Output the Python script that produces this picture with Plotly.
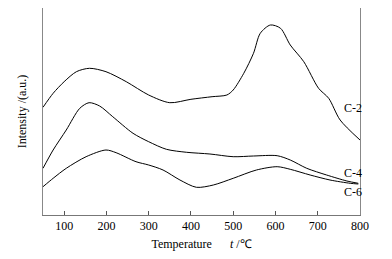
import plotly.graph_objects as go

# temperature (°C) and intensity (a.u.)
t_c2 = [50, 74, 100, 129, 160, 199, 247, 300, 350, 400, 450, 485, 500, 525, 548, 564, 588, 612, 635, 667, 702, 726, 753, 800]
i_c2 = [107.7, 121.7, 133.3, 143.3, 146.7, 143.3, 133.3, 120, 112.3, 115.7, 118.3, 120, 125, 141.7, 161.7, 181.7, 190, 186.7, 170, 153.3, 126.7, 116.7, 95, 75]

t_c4 = [50, 74, 105, 137, 159, 184, 215, 263, 300, 342, 390, 445, 500, 548, 604, 635, 674, 721, 769, 796]
i_c4 = [46.7, 65, 85, 106.7, 112.3, 109, 98.3, 81.7, 73.3, 65.7, 62.7, 61, 58.3, 59, 59.3, 55, 46.7, 40, 34, 31.7]

t_c6 = [50, 74, 105, 152, 199, 223, 270, 300, 334, 374, 413, 453, 500, 555, 604, 635, 682, 729, 777, 796]
i_c6 = [28.3, 36.7, 46.7, 58.3, 65, 62.3, 53.3, 50, 45, 35, 27.7, 30, 36.7, 45, 48.3, 45.7, 40, 35, 31.7, 31]

x_ticks = [100, 200, 300, 400, 500, 600, 700, 800]

font_serif = "Liberation Serif, Times New Roman, serif"

fig = go.Figure()
for t, i, name, ly in [(t_c2, i_c2, "C-2", 107), (t_c4, i_c4, "C-4", 42), (t_c6, i_c6, "C-6", 23)]:
    fig.add_trace(go.Scatter(
        x=t, y=i, mode="lines", name=name,
        line=dict(color="black", width=1, shape="spline", smoothing=0.8),
        showlegend=False
    ))
    fig.add_annotation(x=784, y=ly, text=name, showarrow=False,
                       font=dict(family=font_serif, size=12, color="black"))

# page body has an 8px margin, so the figure is sized to fit inside it
fig.update_layout(
    width=376, height=243,
    margin=dict(l=35, r=24, t=0, b=36),
    plot_bgcolor="white", paper_bgcolor="white",
    font=dict(family=font_serif, size=12, color="black"),
    xaxis=dict(
        range=[50, 800], tickvals=x_ticks, ticks="inside", ticklen=4,
        tickcolor="#555", showgrid=False, zeroline=False,
        showline=True, linecolor="#777", linewidth=1, mirror=True,
        tickfont=dict(size=12),
        title=dict(text="Temperature      <i>t</i> /℃", font=dict(size=12), standoff=8)
    ),
    yaxis=dict(
        range=[0, 207], showticklabels=False, ticks="", showgrid=False,
        zeroline=False, showline=True, linecolor="#888", linewidth=1, mirror=True,
        title=dict(text="Intensity /(a.u.)", font=dict(size=12), standoff=12)
    ),
)

fig.write_html("out.html")
